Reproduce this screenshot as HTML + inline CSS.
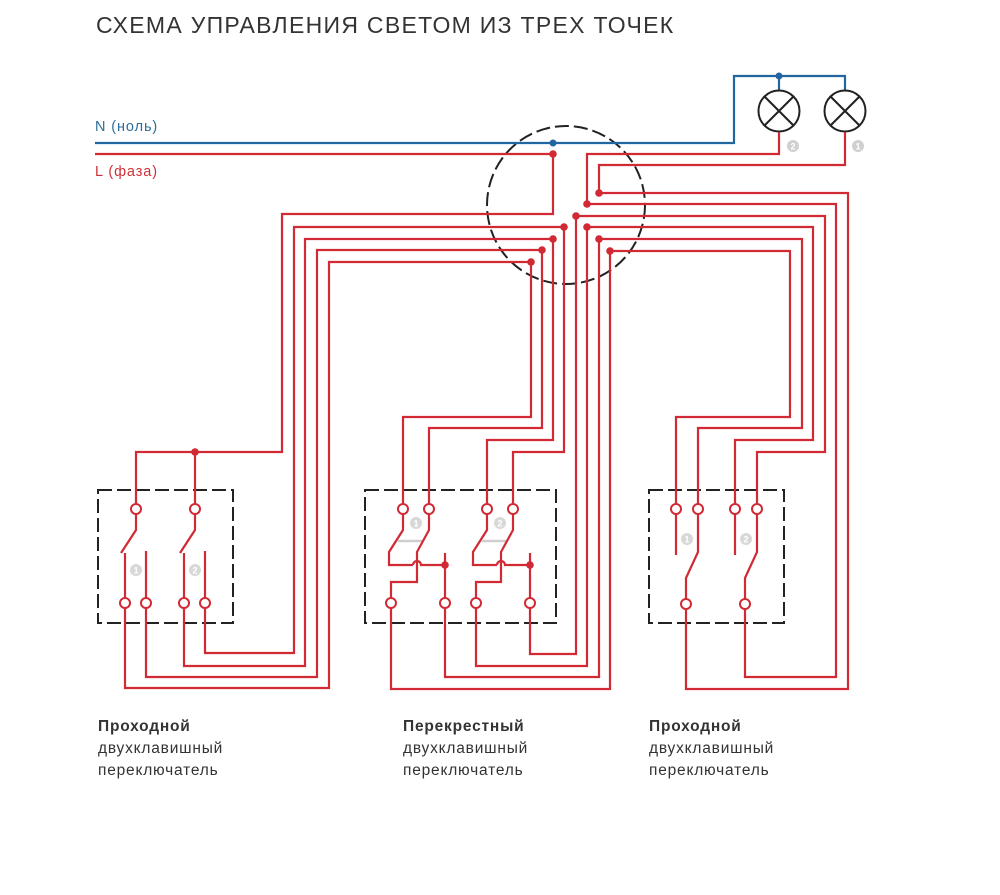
<!DOCTYPE html>
<html><head><meta charset="utf-8"><style>
html,body{margin:0;padding:0;background:#fff;}
svg{display:block;}
text{font-family:"Liberation Sans","DejaVu Sans",sans-serif;}
</style></head><body>
<svg width="1000" height="895" viewBox="0 0 1000 895" xmlns="http://www.w3.org/2000/svg">
<text x="96" y="33" font-size="23" fill="#333" letter-spacing="1.3">СХЕМА УПРАВЛЕНИЯ СВЕТОМ ИЗ ТРЕХ ТОЧЕК</text>
<text x="95" y="131" font-size="14.5" fill="#2c6e99" letter-spacing="0.9">N (ноль)</text>
<text x="95" y="176" font-size="14.5" fill="#cf3038" letter-spacing="0.9">L (фаза)</text>

<g fill="none" stroke="#222" stroke-width="2" stroke-dasharray="14 5">
<circle cx="566" cy="205" r="79"/>
<rect x="98" y="490" width="135" height="133"/>
<rect x="365" y="490" width="191" height="133"/>
<rect x="649" y="490" width="135" height="133"/>
</g>

<g fill="none" stroke="#2166a0" stroke-width="2.2">
<polyline points="95,143 734,143 734,76 845,76 845,90"/>
<line x1="779" y1="76" x2="779" y2="90"/>
</g>
<circle cx="553" cy="143" r="3.5" fill="#2166a0"/>
<circle cx="779" cy="76" r="3.5" fill="#2166a0"/>

<g fill="none" stroke="#222" stroke-width="2">
<circle cx="779" cy="111" r="20.5"/>
<line x1="764.5" y1="96.5" x2="793.5" y2="125.5"/><line x1="793.5" y1="96.5" x2="764.5" y2="125.5"/>
<circle cx="845" cy="111" r="20.5"/>
<line x1="830.5" y1="96.5" x2="859.5" y2="125.5"/><line x1="859.5" y1="96.5" x2="830.5" y2="125.5"/>
</g>
<g font-size="9" font-weight="bold" fill="#fff" text-anchor="middle">
<circle cx="793" cy="146" r="6" fill="#d0d0d0"/><text x="793" y="149.5">2</text>
<circle cx="858" cy="146" r="6" fill="#d0d0d0"/><text x="858" y="149.5">1</text>
<circle cx="136" cy="570" r="6" fill="#d8d8d8"/><text x="136" y="573.5">1</text>
<circle cx="195" cy="570" r="6" fill="#d8d8d8"/><text x="195" y="573.5">2</text>
<circle cx="416" cy="523" r="6" fill="#d8d8d8"/><text x="416" y="526.5">1</text>
<circle cx="500" cy="523" r="6" fill="#d8d8d8"/><text x="500" y="526.5">2</text>
<circle cx="687" cy="539" r="6" fill="#d8d8d8"/><text x="687" y="542.5">1</text>
<circle cx="746" cy="539" r="6" fill="#d8d8d8"/><text x="746" y="542.5">2</text>
</g>
<g stroke="#cfcfcf" stroke-width="2.5">
<line x1="398" y1="541" x2="422" y2="541"/>
<line x1="482" y1="541" x2="506" y2="541"/>
</g>

<g fill="none" stroke="#d22a35" stroke-width="2.2" stroke-linejoin="miter">
<polyline points="95,154 553,154 553,214 282,214 282,452 136,452 136,504"/>
<line x1="195" y1="452" x2="195" y2="504"/>
<polyline points="779,132 779,154 587,154 587,204"/>
<polyline points="587,227 587,666 476,666 476,608"/>
<polyline points="845,132 845,165 599,165 599,193 848,193 848,689 686,689 686,608"/>
<polyline points="587,204 836,204 836,677 745,677 745,608"/>
<polyline points="576,216 825,216 825,452 757,452 757,504"/>
<polyline points="587,227 813,227 813,440 735,440 735,504"/>
<polyline points="599,239 802,239 802,428 698,428 698,504"/>
<polyline points="610,251 790,251 790,417 676,417 676,504"/>
<polyline points="576,216 576,654 530,654 530,608"/>
<polyline points="599,239 599,677 445,677 445,608"/>
<polyline points="610,251 610,689 391,689 391,608"/>
<polyline points="564,227 294,227 294,653 205,653 205,608"/>
<polyline points="553,239 305,239 305,666 184,666 184,608"/>
<polyline points="542,250 317,250 317,677 146,677 146,608"/>
<polyline points="531,262 329,262 329,688 125,688 125,608"/>
<polyline points="564,227 564,452 513,452 513,504"/>
<polyline points="553,239 553,440 487,440 487,504"/>
<polyline points="542,250 542,428 429,428 429,504"/>
<polyline points="531,262 531,417 403,417 403,504"/>

<polyline points="136,514 136,530 121,553"/>
<polyline points="195,514 195,530 180,553"/>
<line x1="125" y1="598" x2="125" y2="553"/>
<line x1="146" y1="598" x2="146" y2="551"/>
<line x1="184" y1="598" x2="184" y2="553"/>
<line x1="205" y1="598" x2="205" y2="551"/>

<line x1="676" y1="514" x2="676" y2="555"/>
<line x1="735" y1="514" x2="735" y2="555"/>
<polyline points="698,514 698,552 686,578 686,599"/>
<polyline points="757,514 757,552 745,578 745,599"/>

<polyline points="403,514 403,530 389,552 389,565 413,565"/>
<path d="M413,565 A4,4 0 0 1 421,565 L445,565"/>
<polyline points="429,514 429,530 417,552 417,582 391,582 391,598"/>
<line x1="445" y1="598" x2="445" y2="553"/>
<polyline points="487,514 487,530 473,552 473,565 497,565"/>
<path d="M497,565 A4,4 0 0 1 505,565 L530,565"/>
<polyline points="513,514 513,530 501,552 501,582 476,582 476,598"/>
<line x1="530" y1="598" x2="530" y2="553"/>
</g>

<g fill="#fff" stroke="#d22a35" stroke-width="2">
<circle cx="136" cy="509" r="5"/><circle cx="195" cy="509" r="5"/>
<circle cx="125" cy="603" r="5"/><circle cx="146" cy="603" r="5"/><circle cx="184" cy="603" r="5"/><circle cx="205" cy="603" r="5"/>
<circle cx="403" cy="509" r="5"/><circle cx="429" cy="509" r="5"/><circle cx="487" cy="509" r="5"/><circle cx="513" cy="509" r="5"/>
<circle cx="391" cy="603" r="5"/><circle cx="445" cy="603" r="5"/><circle cx="476" cy="603" r="5"/><circle cx="530" cy="603" r="5"/>
<circle cx="676" cy="509" r="5"/><circle cx="698" cy="509" r="5"/><circle cx="735" cy="509" r="5"/><circle cx="757" cy="509" r="5"/>
<circle cx="686" cy="604" r="5"/><circle cx="745" cy="604" r="5"/>
</g>

<g fill="#d22a35">
<circle cx="553" cy="154" r="3.8"/>
<circle cx="599" cy="193" r="3.8"/><circle cx="587" cy="204" r="3.8"/><circle cx="576" cy="216" r="3.8"/>
<circle cx="564" cy="227" r="3.8"/><circle cx="587" cy="227" r="3.8"/>
<circle cx="553" cy="239" r="3.8"/><circle cx="599" cy="239" r="3.8"/>
<circle cx="542" cy="250" r="3.8"/><circle cx="610" cy="251" r="3.8"/>
<circle cx="531" cy="262" r="3.8"/>
<circle cx="195" cy="452" r="3.8"/>
<circle cx="445" cy="565" r="3.8"/><circle cx="530" cy="565" r="3.8"/>
</g>

<g font-size="15.5" fill="#333" letter-spacing="0.8">
<text x="98" y="731" font-weight="bold">Проходной</text>
<text x="98" y="753">двухклавишный</text>
<text x="98" y="775">переключатель</text>
<text x="403" y="731" font-weight="bold">Перекрестный</text>
<text x="403" y="753">двухклавишный</text>
<text x="403" y="775">переключатель</text>
<text x="649" y="731" font-weight="bold">Проходной</text>
<text x="649" y="753">двухклавишный</text>
<text x="649" y="775">переключатель</text>
</g>
</svg>
</body></html>
